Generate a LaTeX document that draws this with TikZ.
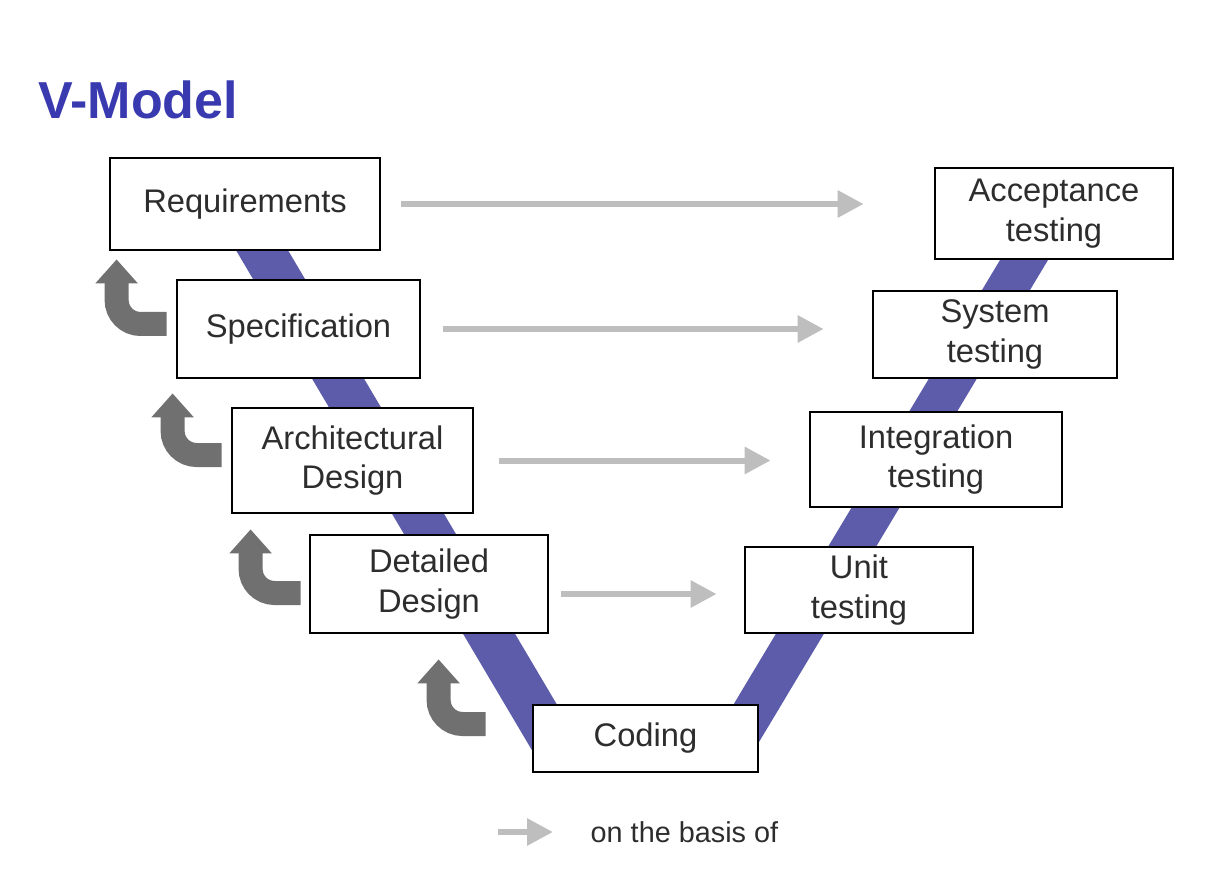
\documentclass[tikz,border=0pt]{standalone}
\usepackage{fontspec}
\setmainfont{Liberation Sans}
\usepackage{xcolor}
\usetikzlibrary{arrows.meta, positioning, calc}

\definecolor{vband}{RGB}{92,92,170}
\definecolor{vtitle}{RGB}{58,58,176}
\definecolor{basisgray}{RGB}{190,190,190}
\definecolor{loopgray}{RGB}{112,112,112}
\definecolor{boxtext}{RGB}{45,45,45}

\begin{document}
\begin{tikzpicture}[
    every node/.style={font=\fontsize{9.3}{11.2}\selectfont, text=boxtext},
    phase/.style={draw=black, line width=0.8pt, fill=white, align=center, inner sep=0pt},
    basis/.style={-{Triangle[width=2.6mm,length=2.6mm]}, line width=0.6mm, basisgray},
    backloop/.style={-{Triangle[width=4.1mm,length=2.4mm]}, line width=2.4mm, loopgray, rounded corners=2.4mm}
]
    \useasboundingbox (0,0) rectangle (12.22,8.86);

    \node[font=\fontsize{14.8}{16}\selectfont\bfseries, text=vtitle, anchor=west, inner sep=0pt] (title) at (0.38,7.86) {V-Model};

    % the V behind the boxes
    \fill[vband] (2.24,6.56) -- (2.76,6.56) -- (5.85,1.34) -- (5.33,1.34) -- cycle;
    \fill[vband] (10.12,6.46) -- (10.60,6.46) -- (7.53,1.34) -- (7.05,1.34) -- cycle;

    % phases
    \foreach \n/\x/\y/\w/\h/\t in {
        req/2.45/6.82/2.70/0.92/Requirements,
        spec/2.985/5.57/2.43/0.98/Specification,
        arch/3.525/4.255/2.41/1.05/{Architectural\\Design},
        det/4.29/3.02/2.38/0.98/{Detailed\\Design},
        coding/6.455/1.475/2.25/0.67/Coding,
        unit/8.59/2.96/2.28/0.86/{Unit\\testing},
        int/9.36/4.265/2.52/0.95/{Integration\\testing},
        sys/9.95/5.515/2.44/0.87/{System\\testing},
        acc/10.54/6.725/2.38/0.91/{Acceptance\\testing}} {
        \node[phase, minimum width=\w cm, minimum height=\h cm] (\n) at (\x,\y) {\t};
    }

    % on the basis of
    \foreach \a/\b/\s/\e in {req/acc/0.20/0.70, spec/sys/0.22/0.48, arch/int/0.25/0.38} {
        \draw[basis, shorten <=\s cm, shorten >=\e cm] (\a.east) -- (\a.east -| \b.west);
    }
    \draw[basis, shorten <=1.2mm, shorten >=2.7mm] ([yshift=-1mm]det.east) -- ([yshift=-1mm]det.east -| unit.west);

    % going back a step
    \draw[backloop] ($(spec.west)+(-0.09,0.05)$) -| ($(req.south -| spec.west)+(-0.59,-0.08)$);
    \draw[backloop] ($(arch.west)+(-0.09,0.055)$) -| ($(spec.south -| arch.west)+(-0.58,-0.14)$);
    \draw[backloop] ($(det.west)+(-0.08,-0.09)$) -| ($(arch.south -| det.west)+(-0.58,-0.15)$);
    \draw[backloop] ($(coding.west)+(-0.46,0.145)$) -| ($(det.south -| coding.west)+(-0.93,-0.25)$);

    % legend
    \node[anchor=west, inner sep=0pt, font=\fontsize{8.2}{9}\selectfont] (legend) at (5.90,0.54) {on the basis of};
    \coordinate (legstart) at (4.98,0.54);
    \draw[basis, shorten >=3.7mm] (legstart) -- (legend.west);
\end{tikzpicture}
\end{document}
